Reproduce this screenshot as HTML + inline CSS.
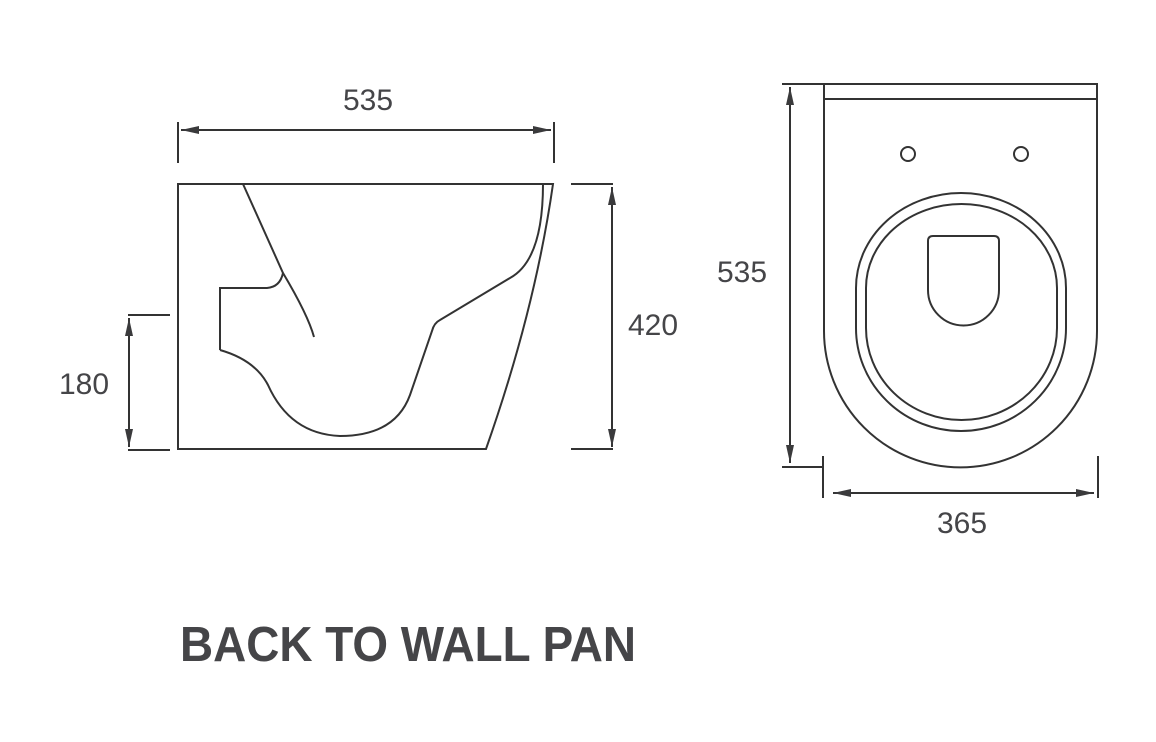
<!DOCTYPE html>
<html><head><meta charset="utf-8"><style>
html,body{margin:0;padding:0;background:#fff;}
svg{display:block;}
text{font-family:"Liberation Sans",sans-serif;fill:#454548;}
</style></head><body>
<svg width="1156" height="742" viewBox="0 0 1156 742" xmlns="http://www.w3.org/2000/svg">
<defs>
<marker id="a" viewBox="0 0 10 10" refX="10" refY="5" markerWidth="18" markerHeight="10" markerUnits="userSpaceOnUse" orient="auto-start-reverse" preserveAspectRatio="none">
<path d="M0,1 L10,5 L0,9 Z" fill="#3a3a3c"/>
</marker>
</defs>
<g stroke="#333" stroke-width="2" fill="none">
<!-- side view -->
<path d="M178,184 L553,184 Q535,310 486,449 L178,449 Z"/>
<path d="M220,350 L220,288 L267,288 Q280,287 283,273"/>
<path d="M243,184 L283,273 Q308,315 314,337"/>
<path d="M220,350 Q255,360 268,385 Q290,434 340,436 Q395,436 410,395 L432,331 Q434,323 440,320 L510,278 Q543,260 543,184"/>
<!-- dims side -->
<line x1="178" y1="122" x2="178" y2="163"/>
<line x1="554" y1="122" x2="554" y2="163"/>
<line x1="181" y1="130" x2="551" y2="130" marker-start="url(#a)" marker-end="url(#a)"/>
<line x1="571" y1="184" x2="613" y2="184"/>
<line x1="571" y1="449" x2="613" y2="449"/>
<line x1="612" y1="187" x2="612" y2="447" marker-start="url(#a)" marker-end="url(#a)"/>
<line x1="128" y1="315" x2="170" y2="315"/>
<line x1="128" y1="450" x2="170" y2="450"/>
<line x1="129" y1="318" x2="129" y2="447" marker-start="url(#a)" marker-end="url(#a)"/>
<!-- top view -->
<path d="M824,84 L1097,84 L1097,331 A136.5,136.5 0 0 1 824,331 Z"/>
<line x1="824" y1="99" x2="1097" y2="99"/>
<circle cx="908" cy="154" r="7"/>
<circle cx="1021" cy="154" r="7"/>
<path d="M856,288 A105,95 0 0 1 1066,288 L1066,328 A105,103 0 0 1 856,328 Z"/>
<path d="M866,288 A95.5,84 0 0 1 1057,288 L1057,328 A95.5,92 0 0 1 866,328 Z"/>
<path d="M928,290 L928,241 Q928,236 933,236 L994,236 Q999,236 999,241 L999,290 A35.5,35.5 0 0 1 928,290 Z"/>
<!-- dims top -->
<line x1="782" y1="84" x2="824" y2="84"/>
<line x1="782" y1="467" x2="822" y2="467"/>
<line x1="790" y1="87" x2="790" y2="463" marker-start="url(#a)" marker-end="url(#a)"/>
<line x1="823" y1="456" x2="823" y2="498"/>
<line x1="1098" y1="456" x2="1098" y2="498"/>
<line x1="833" y1="493" x2="1094" y2="493" marker-start="url(#a)" marker-end="url(#a)"/>
</g>
<text x="368" y="110" font-size="30" text-anchor="middle">535</text>
<text x="653" y="335" font-size="30" text-anchor="middle">420</text>
<text x="84" y="394" font-size="30" text-anchor="middle">180</text>
<text x="742" y="282" font-size="30" text-anchor="middle">535</text>
<text x="962" y="533" font-size="30" text-anchor="middle">365</text>
<text x="180" y="661" font-size="49" font-weight="bold" textLength="456" lengthAdjust="spacingAndGlyphs">BACK TO WALL PAN</text>
</svg>
</body></html>
